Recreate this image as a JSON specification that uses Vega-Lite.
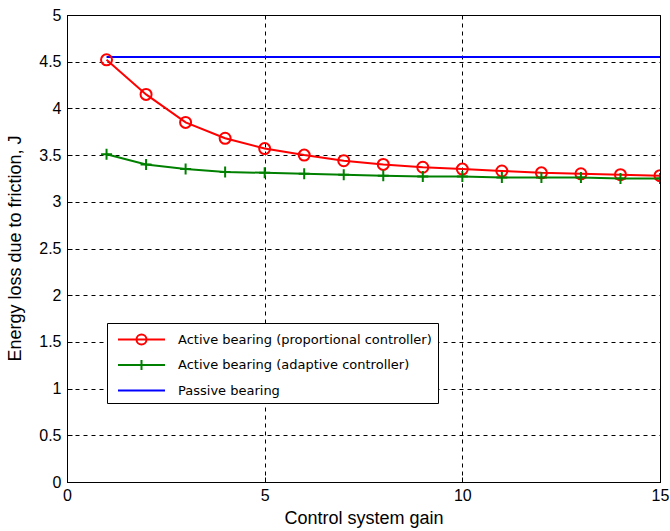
{
  "$schema": "https://vega.github.io/schema/vega-lite/v6.json",
  "width": 593,
  "height": 467,
  "autosize": {"type": "none"},
  "padding": {"left": 67, "top": 15, "right": 10, "bottom": 49},
  "background": "white",
  "config": {
    "view": {"stroke": "#000", "strokeWidth": 1},
    "axis": {
      "domainColor": "#000",
      "gridColor": "#000",
      "gridDash": [4, 4],
      "gridOpacity": 1,
      "gridWidth": 1,
      "tickColor": "#000",
      "tickSize": -5,
      "labelFlush": false,
      "labelFont": "Liberation Sans",
      "labelFontSize": 16,
      "labelColor": "#000",
      "titleFont": "Liberation Sans",
      "titleFontSize": 18,
      "titleFontWeight": "normal",
      "titleColor": "#000"
    }
  },
  "data": {
    "values": [
      {"gain": 1, "loss": 4.52, "series": "Active bearing (proportional controller)"},
      {"gain": 2, "loss": 4.15, "series": "Active bearing (proportional controller)"},
      {"gain": 3, "loss": 3.85, "series": "Active bearing (proportional controller)"},
      {"gain": 4, "loss": 3.68, "series": "Active bearing (proportional controller)"},
      {"gain": 5, "loss": 3.57, "series": "Active bearing (proportional controller)"},
      {"gain": 6, "loss": 3.5, "series": "Active bearing (proportional controller)"},
      {"gain": 7, "loss": 3.44, "series": "Active bearing (proportional controller)"},
      {"gain": 8, "loss": 3.4, "series": "Active bearing (proportional controller)"},
      {"gain": 9, "loss": 3.37, "series": "Active bearing (proportional controller)"},
      {"gain": 10, "loss": 3.35, "series": "Active bearing (proportional controller)"},
      {"gain": 11, "loss": 3.33, "series": "Active bearing (proportional controller)"},
      {"gain": 12, "loss": 3.31, "series": "Active bearing (proportional controller)"},
      {"gain": 13, "loss": 3.3, "series": "Active bearing (proportional controller)"},
      {"gain": 14, "loss": 3.29, "series": "Active bearing (proportional controller)"},
      {"gain": 15, "loss": 3.28, "series": "Active bearing (proportional controller)"},
      {"gain": 1, "loss": 3.51, "series": "Active bearing (adaptive controller)"},
      {"gain": 2, "loss": 3.4, "series": "Active bearing (adaptive controller)"},
      {"gain": 3, "loss": 3.35, "series": "Active bearing (adaptive controller)"},
      {"gain": 4, "loss": 3.32, "series": "Active bearing (adaptive controller)"},
      {"gain": 5, "loss": 3.31, "series": "Active bearing (adaptive controller)"},
      {"gain": 6, "loss": 3.3, "series": "Active bearing (adaptive controller)"},
      {"gain": 7, "loss": 3.29, "series": "Active bearing (adaptive controller)"},
      {"gain": 8, "loss": 3.28, "series": "Active bearing (adaptive controller)"},
      {"gain": 9, "loss": 3.27, "series": "Active bearing (adaptive controller)"},
      {"gain": 10, "loss": 3.27, "series": "Active bearing (adaptive controller)"},
      {"gain": 11, "loss": 3.26, "series": "Active bearing (adaptive controller)"},
      {"gain": 12, "loss": 3.26, "series": "Active bearing (adaptive controller)"},
      {"gain": 13, "loss": 3.26, "series": "Active bearing (adaptive controller)"},
      {"gain": 14, "loss": 3.25, "series": "Active bearing (adaptive controller)"},
      {"gain": 15, "loss": 3.25, "series": "Active bearing (adaptive controller)"},
      {"gain": 1, "loss": 4.55, "series": "Passive bearing"},
      {"gain": 15, "loss": 4.55, "series": "Passive bearing"}
    ]
  },
  "encoding": {
    "x": {
      "field": "gain", "type": "quantitative",
      "scale": {"domain": [0, 15], "nice": false},
      "axis": {"values": [0, 5, 10, 15], "format": "~g", "title": "Control system gain", "labelPadding": 10, "titleY": 27, "titleBaseline": "top"}
    },
    "y": {
      "field": "loss", "type": "quantitative",
      "scale": {"domain": [0, 5], "nice": false},
      "axis": {"values": [0, 0.5, 1, 1.5, 2, 2.5, 3, 3.5, 4, 4.5, 5], "format": "~g", "title": "Energy loss due to friction, J", "labelPadding": 11, "titleX": -47, "titleY": 233, "titleBaseline": "alphabetic", "titleAngle": 270}
    },
    "color": {
      "field": "series", "type": "nominal",
      "scale": {
        "domain": ["Active bearing (proportional controller)", "Active bearing (adaptive controller)", "Passive bearing"],
        "range": ["#FF0000", "#008000", "#0000FF"]
      },
      "legend": {
        "orient": "none", "legendX": 40, "legendY": 308, "title": null,
        "strokeColor": "#000", "fillColor": "white", "padding": 5.5,
        "symbolSize": 400, "symbolStrokeWidth": 2, "symbolOffset": 18,
        "labelFont": "DejaVu Sans", "labelFontSize": 13, "labelColor": "#000",
        "labelOffset": 25.5, "rowPadding": 5.5, "labelLimit": 400,
        "encode": {
          "symbols": {
            "update": {
              "shape": {"signal": "datum.value == 'Passive bearing' ? 'M-2.35,0H2.35' : datum.value == 'Active bearing (adaptive controller)' ? 'M-2.35,0H2.35M0,-0.5V0.5' : 'M-2.35,0H2.35M-0.5,0A0.5,0.5 0 1,1 0.5,0A0.5,0.5 0 1,1 -0.5,0'"},
              "fill": {"value": "transparent"},
              "strokeWidth": {"value": 2}
            }
          }
        }
      }
    }
  },
  "layer": [
    {"mark": {"type": "line", "strokeWidth": 2, "clip": true}},
    {
      "transform": [{"filter": "datum.series != 'Passive bearing'"}],
      "mark": {"type": "point", "filled": false, "strokeWidth": 2, "size": 121, "opacity": 1, "clip": true},
      "encoding": {
        "shape": {
          "field": "series", "type": "nominal",
          "scale": {
            "domain": ["Active bearing (proportional controller)", "Active bearing (adaptive controller)"],
            "range": ["M-1,0A1,1 0 1,1 1,0A1,1 0 1,1 -1,0", "M-1,0H1M0,-1V1"]
          },
          "legend": null
        }
      }
    }
  ]
}
